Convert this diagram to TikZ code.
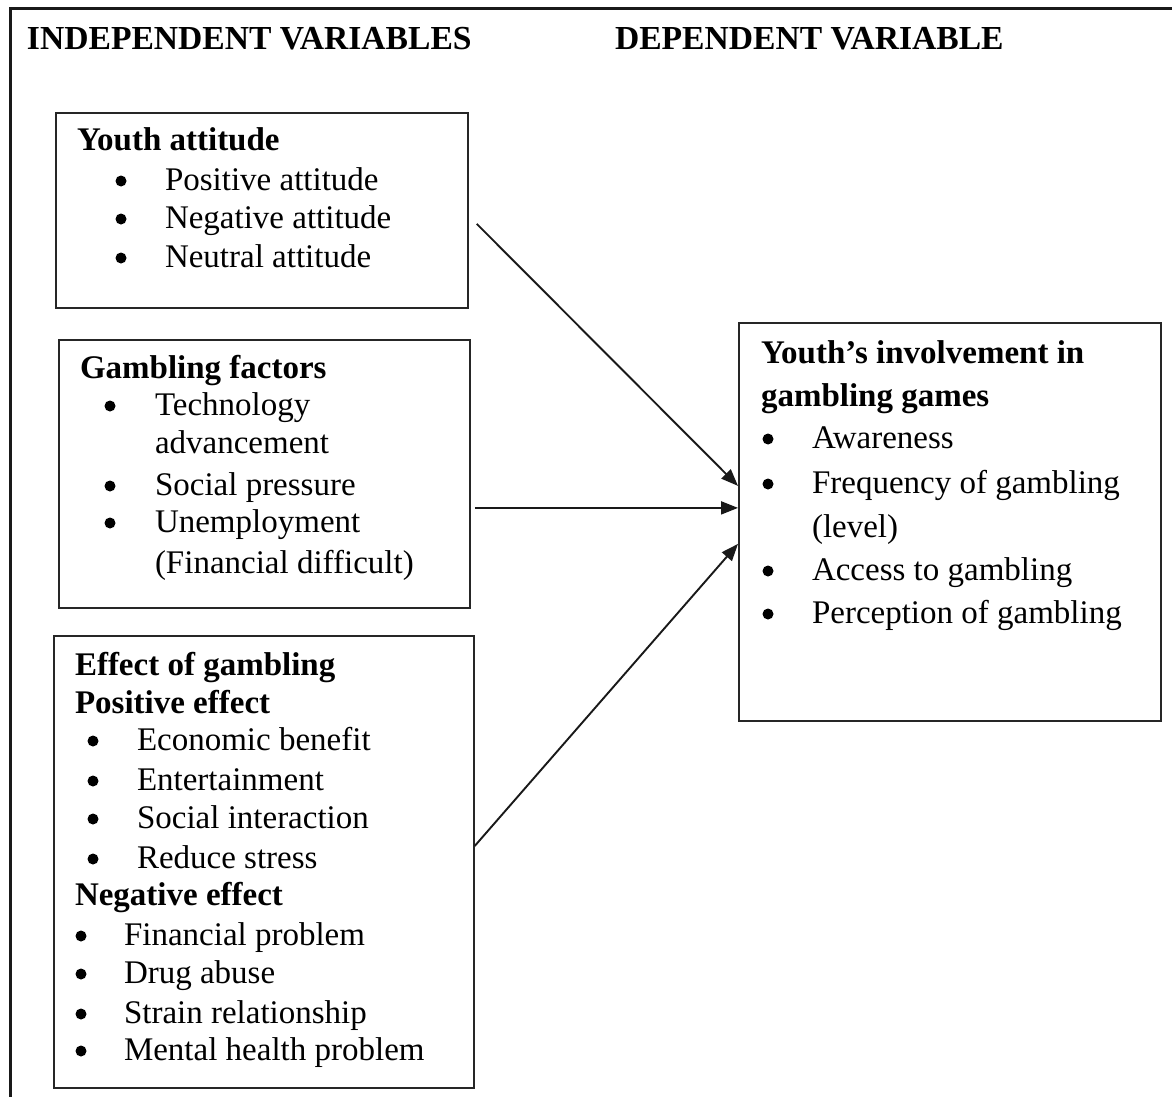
\documentclass[tikz,border=0pt]{standalone}
\usepackage{fontspec}
\setmainfont{Liberation Serif}
\usetikzlibrary{arrows.meta}
\tikzset{
  txt/.style={inner sep=0pt, outer sep=0pt, font=\fontsize{33}{39}\selectfont, text=black},
  hd/.style={txt, font=\fontsize{33}{39}\selectfont\bfseries},
  hdbig/.style={txt, font=\fontsize{33.6}{39}\selectfont\bfseries},
  bulletdot/.style={circle, fill=black, inner sep=0pt, minimum size=11pt},
  boxnode/.style={draw=black!85, line width=1.8pt, inner sep=0pt, anchor=north west},
  conn/.style={line width=1.9pt, draw=black!90, -{Triangle[length=17pt,width=13pt]}},
}
% \bl{name}{bullet centre x}{text x}{baseline y}{text}
\newcommand\bl[5]{%
  \node[bulletdot] (#1b) at (#2,#4-9) {};
  \node[txt,anchor=base west] (#1) at (#3,#4) {#5};}
\newcommand\tl[4]{\node[txt,anchor=base west] (#1) at (#2,#3) {#4};}
\newcommand\hl[4]{\node[hd,anchor=base west] (#1) at (#2,#3) {#4};}
\begin{document}
\begin{tikzpicture}[x=1pt,y=-1pt]
\useasboundingbox (0,0) rectangle (1172,1097);
\fill[white] (0,0) rectangle (1172,1097);
% outer frame (only left and top visible)
\draw[line width=3pt, black!90] (10,1110) -- (10,9) -- (1185,9);

% column headers
\node[hdbig,anchor=base west] (hind) at (27,50) {INDEPENDENT VARIABLES};
\node[hdbig,anchor=base west] (hdep) at (615,50) {DEPENDENT VARIABLE};

% boxes
\node[boxnode, minimum width=412pt, minimum height=195pt] (b1) at (55,112) {};
\node[boxnode, minimum width=411pt, minimum height=268pt] (b2) at (58,339) {};
\node[boxnode, minimum width=420pt, minimum height=452pt] (b3) at (53,635) {};
\node[boxnode, minimum width=422pt, minimum height=398pt] (dep) at (738,322) {};

% box 1
\hl{t1}{77}{150}{Youth attitude}
\bl{t1a}{121}{165}{190}{Positive attitude}
\bl{t1b}{121}{165}{228}{Negative attitude}
\bl{t1c}{121}{165}{267}{Neutral attitude}

% box 2
\hl{t2}{80}{378}{Gambling factors}
\bl{t2a}{110}{155}{415}{Technology}
\tl{t2a2}{155}{453}{advancement}
\bl{t2b}{110}{155}{495}{Social pressure}
\bl{t2c}{110}{155}{532}{Unemployment}
\tl{t2c2}{155}{573}{(Financial difficult)}

% box 3
\hl{t3}{75}{675}{Effect of gambling}
\hl{t3p}{75}{713}{Positive effect}
\bl{t3a}{93}{137}{750}{Economic benefit}
\bl{t3b}{93}{137}{790}{Entertainment}
\bl{t3c}{93}{137}{828}{Social interaction}
\bl{t3d}{93}{137}{868}{Reduce stress}
\hl{t3n}{75}{905}{Negative effect}
\bl{t3e}{81}{124}{945}{Financial problem}
\bl{t3f}{81}{124}{983}{Drug abuse}
\bl{t3g}{81}{124}{1023}{Strain relationship}
\bl{t3h}{81}{124}{1060}{Mental health problem}

% dependent box
\hl{t4}{761}{363}{Youth’s involvement in}
\hl{t4b}{761}{406}{gambling games}
\bl{t4a}{768}{812}{448}{Awareness}
\bl{t4c}{768}{812}{493}{Frequency of gambling}
\tl{t4c2}{812}{537}{(level)}
\bl{t4d}{768}{812}{580}{Access to gambling}
\bl{t4e}{768}{812}{623}{Perception of gambling}

% connectors
\draw[conn] ([xshift=8pt,yshift=-13.5pt]b1.east) -- ([yshift=36pt]dep.west);
\draw[conn] ([xshift=4pt,yshift=-34pt]b2.east) -- ([yshift=14pt]dep.west);
\draw[conn] ([xshift=0pt,yshift=16pt]b3.east) -- ([yshift=-22pt]dep.west);
\end{tikzpicture}
\end{document}
